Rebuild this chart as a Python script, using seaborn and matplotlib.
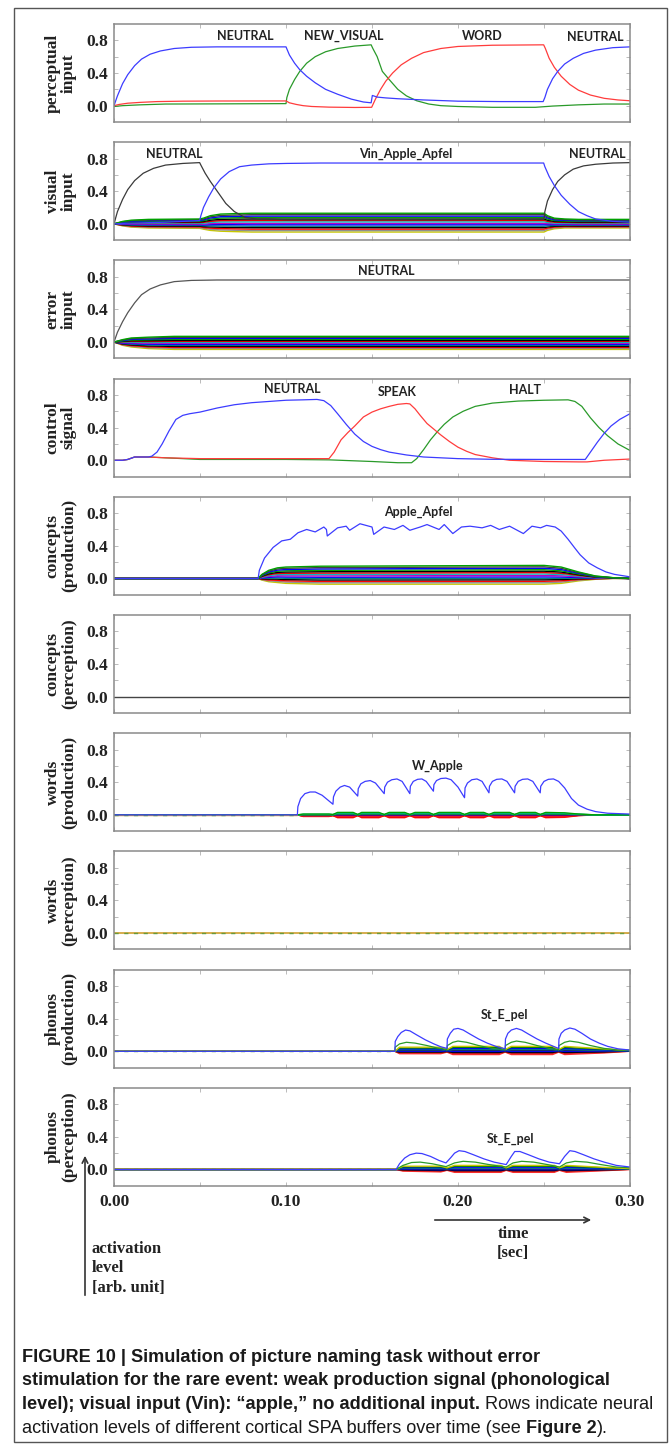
import numpy as np
import matplotlib
matplotlib.use("Agg")
import matplotlib.pyplot as plt
import seaborn as sns
from matplotlib.patches import Rectangle, FancyArrowPatch
from matplotlib.ticker import FormatStrFormatter

sns.set_theme(style="white")
plt.rcParams['font.family'] = ['DejaVu Sans']

# ---------------- data ----------------
# panel 1: perceptual input
p1_blue_t = [0, .002, .005, .008, .012, .016, .021, .027, .035, .045, .06, .08, .1, .102, .105, .108, .112, .117, .123, .13, .138, .145, .1495, .1502, .153, .158, .165, .18, .2, .225, .2495, .2505, .252, .255, .258, .262, .267, .273, .28, .29, .3]
p1_blue_y = [0, .12, .27, .38, .49, .57, .63, .67, .70, .715, .72, .72, .72, .62, .52, .44, .36, .28, .2, .14, .08, .045, .035, .125, .105, .095, .085, .07, .055, .05, .05, .1, .2, .33, .42, .51, .58, .64, .68, .71, .72]
p1_red_t = [0, .003, .008, .015, .025, .04, .06, .1, .102, .106, .11, .115, .125, .14, .1498, .152, .155, .158, .162, .167, .173, .18, .19, .2, .22, .2498, .2508, .253, .256, .26, .265, .27, .277, .285, .293, .3]
p1_red_y = [0, .015, .03, .04, .05, .055, .057, .058, .035, .015, 0, -.01, -.018, -.022, -.02, .08, .2, .3, .4, .5, .58, .65, .7, .725, .74, .745, .7, .58, .47, .36, .26, .19, .13, .09, .07, .06]
p1_green_t = [0, .005, .015, .03, .06, .1, .1005, .102, .105, .108, .112, .117, .123, .13, .14, .1495, .1505, .153, .156, .16, .165, .17, .176, .183, .19, .2, .22, .245, .255, .27, .285, .3]
p1_green_y = [-.01, 0, .01, .02, .022, .025, .1, .2, .32, .42, .52, .6, .66, .7, .73, .745, .7, .6, .42, .32, .2, .12, .06, .02, 0, -.01, -.02, -.02, -.005, .01, .02, .02]

# panel 2: visual input
p2_black_t = [0, .002, .005, .008, .012, .017, .023, .03, .04, .0498, .0505, .053, .056, .06, .065, .07, .076, .083, .09, .1, .2, .25, .2505, .252, .255, .258, .262, .267, .273, .28, .29, .3]
p2_black_y = [0, .15, .3, .42, .53, .62, .68, .72, .74, .75, .72, .62, .52, .4, .25, .15, .08, .06, .06, .05, .05, .06, .15, .28, .42, .52, .6, .67, .71, .73, .745, .75]
p2_blue_t = [0, .01, .03, .0498, .0505, .052, .055, .058, .062, .067, .073, .08, .09, .1, .12, .2498, .2505, .253, .256, .26, .265, .27, .275, .28, .29, .3]
p2_blue_y = [0, .01, .02, .04, .1, .2, .33, .44, .55, .64, .7, .72, .735, .74, .745, .745, .7, .58, .47, .35, .24, .15, .1, .06, .03, .02]
p2_band_t = [0, .005, .01, .02, .0498, .052, .056, .062, .07, .08, .25, .252, .256, .262, .27, .3]
p2_band_top = [0, .03, .045, .055, .06, .07, .1, .12, .125, .13, .13, .1, .07, .06, .055, .055]
p2_band_bot = [0, -.025, -.04, -.05, -.055, -.065, -.08, -.09, -.095, -.1, -.1, -.08, -.06, -.05, -.05, -.05]

# panel 3: error input
p3_black_t = [0, .002, .005, .008, .012, .016, .021, .027, .035, .045, .06, .08, .1, .3]
p3_black_y = [0, .12, .25, .36, .48, .58, .65, .7, .74, .755, .76, .76, .76, .76]
p3_band_t = [0, .005, .01, .02, .035, .3]
p3_band_top = [0, .03, .05, .06, .07, .07]
p3_band_bot = [0, -.04, -.06, -.08, -.09, -.09]

# panel 4: control signal
p4_blue_t = [0, .005, .008, .012, .02, .022, .025, .028, .032, .036, .04, .044, .05, .06, .07, .08, .09, .1, .11, .118, .122, .126, .13, .135, .14, .145, .15, .155, .16, .17, .18, .19, .2, .22, .25, .274, .277, .281, .285, .289, .294, .3]
p4_blue_y = [0, 0, .01, .04, .04, .05, .1, .2, .36, .5, .55, .57, .59, .64, .68, .705, .72, .735, .74, .745, .73, .67, .57, .44, .32, .23, .17, .13, .1, .065, .04, .03, .02, .012, .01, .01, .1, .22, .33, .42, .5, .57]
p4_red_t = [0, .005, .008, .012, .02, .03, .05, .1, .125, .128, .132, .136, .14, .145, .15, .155, .16, .165, .17, .172, .175, .178, .182, .186, .19, .195, .2, .205, .21, .22, .23, .25, .27, .275, .285, .3]
p4_red_y = [0, 0, .01, .04, .04, .03, .02, .02, .02, .1, .25, .34, .42, .53, .59, .63, .66, .685, .695, .69, .63, .55, .45, .38, .31, .23, .16, .11, .07, .03, 0, -.015, -.02, -.02, 0, .015]
p4_green_t = [0, .005, .008, .012, .02, .03, .05, .1, .125, .15, .165, .173, .176, .18, .184, .188, .192, .197, .203, .21, .22, .235, .25, .264, .268, .272, .277, .282, .287, .293, .3]
p4_green_y = [0, 0, .01, .04, .04, .03, .01, .01, .005, -.015, -.03, -.03, .02, .13, .25, .35, .44, .53, .6, .66, .7, .725, .735, .74, .72, .66, .52, .4, .3, .2, .12]

# panel 5: concepts (production)
p5_blue_t = [0, .0838, .0845, .0875, .0925, .0975, .1025, .107, .112, .117, .122, .1235, .124, .13, .135, .137, .143, .15, .151, .157, .163, .168, .172, .178, .182, .189, .192, .197, .202, .207, .214, .219, .224, .23, .238, .243, .248, .2515, .2565, .26, .264, .268, .271, .276, .281, .286, .291, .3]
p5_blue_y = [0, 0, .1, .25, .38, .46, .48, .56, .6, .57, .63, .6, .52, .62, .64, .59, .67, .63, .54, .63, .6, .65, .59, .63, .66, .6, .66, .55, .63, .64, .62, .65, .6, .64, .55, .64, .62, .65, .63, .58, .48, .37, .29, .19, .13, .08, .05, .02]
p5_band_t = [0, .0838, .086, .09, .095, .1, .12, .25, .26, .27, .28, .29, .3]
p5_band_top = [0, 0, .05, .1, .13, .14, .15, .16, .14, .08, .03, .01, 0]
p5_band_bot = [0, 0, -.02, -.04, -.05, -.06, -.07, -.07, -.06, -.03, -.01, 0, 0]

# panel 7: words (production)
p7_blue_t = [0, .1066, .1069, .1085, .111, .114, .117, .121, .1273,
             .1276, .129, .1315, .134, .137, .1417,
             .142, .1435, .146, .149, .152, .1571,
             .1574, .159, .1615, .1645, .1675, .172,
             .1723, .174, .1765, .179, .1815, .1857,
             .186, .1875, .19, .193, .196, .2, .2038,
             .2041, .2055, .208, .211, .214, .218,
             .2183, .22, .2225, .2255, .2285, .2329,
             .2332, .235, .2375, .2405, .2435, .2478,
             .2481, .25, .2525, .2555, .2585, .262, .266, .27, .275, .28, .287, .3]
p7_blue_y = [0, 0, .1, .2, .26, .28, .28, .24, .13,
             .22, .29, .34, .36, .34, .23,
             .32, .38, .41, .42, .39, .26,
             .34, .4, .43, .44, .41, .26,
             .35, .41, .435, .44, .41, .29,
             .37, .42, .445, .45, .43, .34, .21,
             .33, .39, .43, .44, .41, .27,
             .35, .41, .435, .44, .41, .27,
             .35, .41, .435, .44, .41, .27,
             .35, .41, .435, .44, .41, .33, .2, .12, .07, .04, .02, .01]
p7_band_t = [0, .1066, .11, .125, .1273, .13, .139, .1417, .144, .154, .1571, .16, .169, .172, .175, .183, .1857, .189, .201, .2038, .207, .215, .218, .221, .23, .2329, .236, .245, .2478, .251, .262, .27, .28, .3]
p7_band_top = [0, 0, .01, .01, .005, .03, .03, .005, .03, .03, .005, .03, .03, .005, .03, .03, .005, .03, .03, .005, .03, .03, .005, .03, .03, .005, .03, .03, .005, .03, .025, .01, 0, 0]
p7_band_bot = [0, 0, -.02, -.02, -.01, -.035, -.035, -.01, -.035, -.035, -.01, -.035, -.035, -.01, -.035, -.035, -.01, -.035, -.035, -.01, -.035, -.035, -.01, -.035, -.035, -.01, -.035, -.035, -.01, -.035, -.03, -.01, 0, 0]

# panel 9: phonos (production)
p9_blue_t = [0, .1633, .1635, .165, .167, .1695, .172, .176, .181, .186, .19, .1936, .1938, .1955, .1975, .2, .203, .207, .212, .217, .222, .2274, .2276, .229, .231, .234, .237, .241, .246, .251, .2555, .2585, .2587, .26, .262, .265, .268, .272, .277, .282, .287, .293, .3]
p9_blue_y = [0, 0, .12, .18, .23, .26, .25, .2, .14, .09, .055, .035, .15, .22, .27, .28, .26, .21, .15, .1, .06, .03, .15, .22, .26, .28, .26, .21, .15, .1, .06, .035, .15, .22, .26, .285, .27, .22, .15, .1, .06, .03, .015]
p9_green_t = [0, .1633, .1635, .166, .17, .175, .182, .188, .1936, .1938, .197, .2, .205, .212, .22, .2274, .2276, .231, .234, .239, .246, .253, .2585, .2587, .262, .265, .27, .277, .285, .293, .3]
p9_green_y = [0, 0, .05, .09, .11, .1, .07, .04, .02, .07, .11, .125, .11, .07, .035, .02, .07, .11, .125, .11, .07, .035, .02, .07, .11, .125, .11, .07, .035, .015, .01]
p9_band_t = [0, .1633, .166, .19, .1936, .197, .224, .2274, .231, .255, .2585, .262, .285, .3]
p9_band_top = [0, 0, .05, .05, .02, .06, .06, .02, .06, .06, .02, .06, .03, .01]
p9_band_bot = [0, 0, -.03, -.03, -.01, -.04, -.04, -.01, -.04, -.04, -.01, -.04, -.02, 0]

# panel 10: phonos (perception)
p10_blue_t = [0, .164, .166, .169, .172, .1757, .179, .184, .189, .193, .196, .198, .2006, .204, .209, .215, .221, .228, .231, .233, .236, .241, .247, .253, .259, .262, .265, .268, .273, .279, .285, .292, .3]
p10_blue_y = [0, 0, .07, .14, .18, .2, .195, .16, .11, .08, .15, .2, .23, .22, .18, .13, .09, .06, .16, .22, .22, .18, .13, .09, .07, .16, .23, .22, .18, .13, .09, .05, .03]
p10_green_t = [0, .164, .168, .173, .178, .185, .193, .198, .203, .21, .218, .228, .232, .237, .244, .252, .259, .263, .268, .275, .283, .292, .3]
p10_green_y = [0, 0, .05, .085, .09, .07, .035, .08, .1, .09, .06, .03, .08, .1, .09, .06, .03, .08, .1, .09, .06, .03, .02]
p10_band_t = [0, .164, .168, .19, .1936, .198, .225, .228, .232, .256, .259, .263, .29, .3]
p10_band_top = [0, 0, .04, .04, .02, .05, .05, .02, .05, .05, .02, .05, .02, .01]
p10_band_bot = [0, 0, -.02, -.03, -.01, -.035, -.035, -.01, -.035, -.035, -.01, -.035, -.01, 0]

flat_t = [0, .3]
flat_y = [0, 0]

row_labels = ["perceptual\ninput", "visual\ninput", "error\ninput", "control\nsignal",
              "concepts\n(production)", "concepts\n(perception)", "words\n(production)",
              "words\n(perception)", "phonos\n(production)", "phonos\n(perception)"]

annotations = {
    0: [("NEUTRAL", .0763, .85), ("NEW_VISUAL", .1335, .86), ("WORD", .2143, .85), ("NEUTRAL", .28, .84)],
    1: [("NEUTRAL", .0348, .85), ("Vin_Apple_Apfel", .1695, .86), ("NEUTRAL", .281, .85)],
    2: [("NEUTRAL", .158, .87)],
    3: [("NEUTRAL", .1036, .87), ("SPEAK", .1645, .83), ("HALT", .239, .86)],
    4: [("Apple_Apfel", .177, .82)],
    6: [("W_Apple", .188, .6)],
    8: [("St_E_pel", .227, .45)],
    9: [("St_E_pel", .2305, .38)],
}

y_ticks = [0.0, 0.4, 0.8]
y_minor = [0.2, 0.6]
x_ticks = [0.0, 0.1, 0.2, 0.3]
x_minor = [0.05, 0.15, 0.25]

caption_lines = [
    [("FIGURE 10 | Simulation of picture naming task without error", True)],
    [("stimulation for the rare event: weak production signal (phonological", True)],
    [("level); visual input (Vin): \u201capple,\u201d no additional input.", True), ("Rows indicate neural", False)],
    [("activation levels of different cortical SPA buffers over time (see", False), ("Figure 2", True), (").", False)],
]

# ---------------- style ----------------
W, H = 670, 1446
BLUE = "#3c3cff"
RED = "#ff3c3c"
GREEN = "#2a9a2a"
BLACK = "#3a3a3a"
BAND_COLORS = ['#c8c800', '#909090', '#ff0000', '#000000', '#008080', '#0000ff', '#bf00bf',
               '#00bfbf', '#e00000', '#000000', '#00a000', '#0000ff', '#404040', '#00a000']
WORD_COLORS = ['#ff2020', '#ff0000', '#e00000', '#ff3030', '#0000ff', '#d00000', '#008080', '#00a000', '#00bfbf', '#00a000']
PHON_COLORS = ['#ff3030', '#e02020', '#000000', '#0000ff', '#202060', '#008080', '#0000ff', '#008000', '#c8c800']
SERIF = 'Liberation Serif'
SANS = 'Lato'
LW = 0.9

fig = plt.figure(figsize=(W / 100, H / 100), dpi=100)
AX_L, AX_R = 114, 630
TOP0, STEP, AX_H = 24, 118.2, 98


def line(ax, t, y, color, lw=LW, ls='-'):
    sns.lineplot(x=t, y=y, ax=ax, color=color, lw=lw, ls=ls, estimator=None,
                 sort=False, legend=False)


def band(ax, t, top, bot, colors):
    top = np.asarray(top)
    bot = np.asarray(bot)
    n = len(colors)
    for i, c in enumerate(colors):
        f = i / (n - 1)
        line(ax, t, bot + f * (top - bot), c, lw=1.0)


axes = []
for i in range(10):
    top = TOP0 + STEP * i
    ax = fig.add_axes([AX_L / W, 1 - (top + AX_H) / H, (AX_R - AX_L) / W, AX_H / H])
    axes.append(ax)

# panel 1
ax = axes[0]
line(ax, p1_green_t, p1_green_y, GREEN)
line(ax, p1_red_t, p1_red_y, RED)
line(ax, p1_blue_t, p1_blue_y, BLUE)
# panel 2
ax = axes[1]
band(ax, p2_band_t, p2_band_top, p2_band_bot, BAND_COLORS)
line(ax, p2_black_t, p2_black_y, BLACK)
line(ax, p2_blue_t, p2_blue_y, BLUE)
# panel 3
ax = axes[2]
band(ax, p3_band_t, p3_band_top, p3_band_bot, BAND_COLORS)
line(ax, p3_black_t, p3_black_y, '#555555')
# panel 4
ax = axes[3]
line(ax, p4_green_t, p4_green_y, GREEN)
line(ax, p4_red_t, p4_red_y, RED)
line(ax, p4_blue_t, p4_blue_y, BLUE)
# panel 5
ax = axes[4]
band(ax, p5_band_t, p5_band_top, p5_band_bot, BAND_COLORS)
line(ax, [0, .0838], [0, 0], '#555555', lw=1.2)
line(ax, p5_blue_t, p5_blue_y, BLUE)
# panel 6
line(axes[5], flat_t, flat_y, '#444444', lw=1.0)
# panel 7
ax = axes[6]
band(ax, p7_band_t, p7_band_top, p7_band_bot, WORD_COLORS)
line(ax, [0, .1066], [0, 0], '#c89a30', lw=1.0)
line(ax, [0, .1066], [0, 0], '#5a9a3a', lw=1.0, ls=(0, (3, 4)))
line(ax, p7_blue_t, p7_blue_y, BLUE)
# panel 8
line(axes[7], flat_t, flat_y, '#d0a030', lw=1.2)
line(axes[7], flat_t, flat_y, '#6a9a3a', lw=1.0, ls=(0, (3, 4)))
# panel 9
ax = axes[8]
band(ax, p9_band_t, p9_band_top, p9_band_bot, PHON_COLORS)
line(ax, [0, .1633], [0, 0], '#d0a030', lw=1.2)
line(ax, [0, .1633], [0, 0], '#6a9a3a', lw=1.0, ls=(0, (3, 4)))
line(ax, p9_green_t, p9_green_y, GREEN)
line(ax, p9_blue_t, p9_blue_y, BLUE)
# panel 10
ax = axes[9]
band(ax, p10_band_t, p10_band_top, p10_band_bot, PHON_COLORS)
line(ax, [0, .164], [0, 0], '#d0a030', lw=1.2)
line(ax, [0, .164], [0, 0], '#6a9a3a', lw=1.0, ls=(0, (3, 4)))
line(ax, p10_green_t, p10_green_y, GREEN)
line(ax, p10_blue_t, p10_blue_y, BLUE)

for i, ax in enumerate(axes):
    ax.set_xlim(0, 0.3)
    ax.set_ylim(-0.2, 1.0)
    ax.set_facecolor('white')
    for s in ax.spines.values():
        s.set_color('#8a8a8a')
        s.set_linewidth(1.1)
        s.set_visible(True)
    ax.set_yticks(y_ticks)
    ax.set_yticks(y_minor, minor=True)
    ax.set_xticks(x_ticks)
    ax.set_xticks(x_minor, minor=True)
    ax.yaxis.set_major_formatter(FormatStrFormatter('%.1f'))
    ax.xaxis.set_major_formatter(FormatStrFormatter('%.2f'))
    ax.tick_params(which='both', direction='in', length=3, width=0.6, color='#b0b0b0',
                   top=True, right=True, bottom=True, left=True)
    ax.tick_params(axis='y', which='major', pad=4)
    ax.tick_params(axis='x', which='major', pad=6, labelbottom=(i == 9))
    for lab in ax.get_yticklabels() + ax.get_xticklabels():
        lab.set_fontfamily(SERIF)
        lab.set_fontweight('bold')
        lab.set_fontsize(12.5)
        lab.set_color('#222222')
    ax.set_xlabel('')
    ax.set_ylabel(row_labels[i], fontsize=12.5, fontweight='bold', family=SERIF,
                  linespacing=1.0, color='#222222')
    ax.yaxis.set_label_coords(-0.072, 0.5)
    for txt, tx, ty in annotations.get(i, []):
        ax.text(tx, ty, txt, ha='center', va='center', fontsize=9, fontweight='bold',
                family=SANS, color='#222222')

# outer frame
fig.add_artist(Rectangle((14 / W, 1 - 1442 / H), 653 / W, 1434 / H, transform=fig.transFigure,
                         fill=False, ec='#555555', lw=1.0))


def fxy(x, y):
    return (x / W, 1 - y / H)


# arrows
fig.add_artist(FancyArrowPatch(fxy(85, 1298), fxy(85, 1153), transform=fig.transFigure,
                               arrowstyle='->', mutation_scale=10, color='#333333', lw=1.2))
fig.add_artist(FancyArrowPatch(fxy(432, 1220), fxy(594, 1220), transform=fig.transFigure,
                               arrowstyle='->', mutation_scale=10, color='#333333', lw=1.2))
for txt, y in [("time", 1234), ("[sec]", 1253)]:
    fig.text(*fxy(513, y), txt, ha='center', va='center', family=SERIF, fontweight='bold',
             fontsize=12, color='#222222')
for txt, y in [("activation", 1249), ("level", 1268), ("[arb. unit]", 1288)]:
    fig.text(*fxy(92, y), txt, ha='left', va='center', family=SERIF, fontweight='bold',
             fontsize=12, color='#222222')

# caption
CAP_FS = 13.1
fig.canvas.draw()
rend = fig.canvas.get_renderer()
probe = fig.text(0, 0, "x x", fontsize=CAP_FS, family='Liberation Sans')
probe2 = fig.text(0, 0, "xx", fontsize=CAP_FS, family='Liberation Sans')
space_w = probe.get_window_extent(rend).width - probe2.get_window_extent(rend).width
probe.remove()
probe2.remove()
for k, runs in enumerate(caption_lines):
    y = 1357 + 23.7 * k
    x = 22
    for j, (txt, bold) in enumerate(runs):
        if j > 0 and not txt.startswith(')'):
            x += space_w
        t = fig.text(*fxy(x, y), txt, ha='left', va='center', fontsize=CAP_FS,
                     fontweight='bold' if bold else 'normal', family='Liberation Sans',
                     color='#1a1a1a')
        x += t.get_window_extent(rend).width

fig.savefig("out.png", dpi=100)
